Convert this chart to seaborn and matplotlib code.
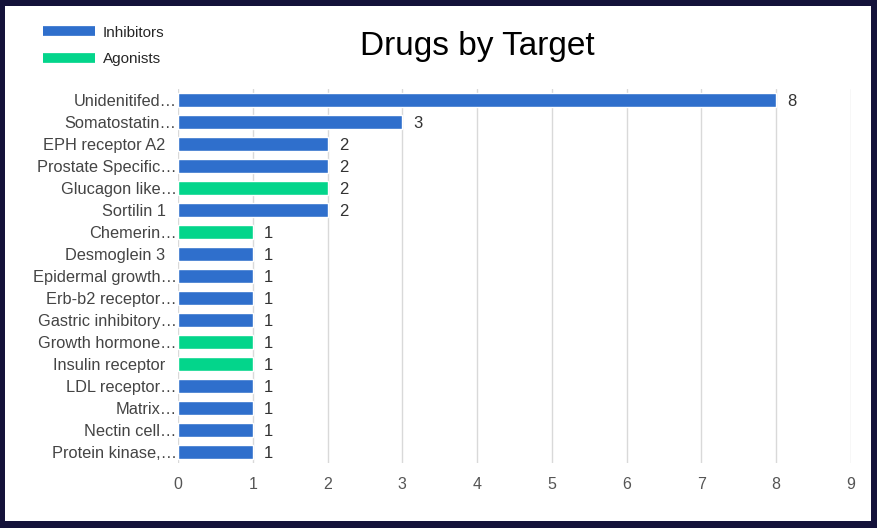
import pandas as pd
import matplotlib.pyplot as plt
import matplotlib.transforms as mtransforms
import seaborn as sns
from matplotlib.lines import Line2D
from matplotlib.patches import Rectangle

# --- DATA ---
targets = ["Unidenitifed\u2026", "Somatostatin\u2026", "EPH receptor A2", "Prostate Specific\u2026",
           "Glucagon like\u2026", "Sortilin 1", "Chemerin\u2026", "Desmoglein 3",
           "Epidermal growth\u2026", "Erb-b2 receptor\u2026", "Gastric inhibitory\u2026",
           "Growth hormone\u2026", "Insulin receptor", "LDL receptor\u2026", "Matrix\u2026",
           "Nectin cell\u2026", "Protein kinase,\u2026"]
counts = [8, 3, 2, 2, 2, 2, 1, 1, 1, 1, 1, 1, 1, 1, 1, 1, 1]
drug_type = ["Inhibitors", "Inhibitors", "Inhibitors", "Inhibitors", "Agonists", "Inhibitors",
             "Agonists", "Inhibitors", "Inhibitors", "Inhibitors", "Inhibitors", "Agonists",
             "Agonists", "Inhibitors", "Inhibitors", "Inhibitors", "Inhibitors"]
x_ticks = [0, 1, 2, 3, 4, 5, 6, 7, 8, 9]

# Colors
COLOR_INH = '#2f6fcc'
COLOR_AGO = '#03d58b'
BORDER = '#14123a'

df = pd.DataFrame({'Target': targets, 'Count': counts, 'Type': drug_type})

sns.set_style('white')
plt.rcParams['font.family'] = ['Liberation Sans', 'DejaVu Sans']

fig = plt.figure(figsize=(8.77, 5.28), dpi=100)
fig.patch.set_facecolor(BORDER)
# white card inside the dark frame
fig.patches.append(Rectangle((5 / 877, 7 / 528), 866 / 877, 515 / 528,
                             transform=fig.transFigure, facecolor='white',
                             edgecolor='none', zorder=-5))

ax = fig.add_axes([178 / 877, 65 / 528, 673 / 877, 374 / 528])
ax.set_facecolor('none')

sns.barplot(data=df, x='Count', y='Target', hue='Type', dodge=False, width=0.6,
            palette={'Inhibitors': COLOR_INH, 'Agonists': COLOR_AGO},
            order=targets, ax=ax, legend=False, saturation=1)

for c in ax.containers:
    labels = ax.bar_label(c, fmt='%d', padding=8, fontsize=12, color='#333333')
    for t in labels:
        t.set_va('center_baseline')

ax.set_xlim(0, 9)
ax.set_xticks(x_ticks)
ax.set_ylim(len(targets) - 0.5, -0.5)
ax.grid(axis='x', color='#d9d9d9', linewidth=1)
ax.set_axisbelow(True)
for s in ax.spines.values():
    s.set_visible(False)
ax.set_xlabel('')
ax.set_ylabel('')
ax.tick_params(axis='x', length=0, labelsize=11.5, labelcolor='#555555', pad=10)
ax.tick_params(axis='y', length=4, color='#dddddd', labelsize=11.8, labelcolor='#444444', pad=-3)

# untruncated labels sit a bit further from the axis (the ellipsis hangs over it)
shift = mtransforms.ScaledTranslation(-11 / 100, 0, fig.dpi_scale_trans)
for lbl in ax.get_yticklabels():
    if not lbl.get_text().endswith('\u2026'):
        lbl.set_transform(lbl.get_transform() + shift)

# Title
fig.text(477 / 877, 1 - 47 / 528, 'Drugs by Target', ha='center', va='center',
         fontsize=24, color='black')

# Legend
handles = [Line2D([0], [0], color=COLOR_INH, lw=7, solid_capstyle='butt'),
           Line2D([0], [0], color=COLOR_AGO, lw=7, solid_capstyle='butt')]
fig.legend(handles, ['Inhibitors', 'Agonists'], loc='upper left',
           bbox_to_anchor=(29 / 877, 1 - 12 / 528), frameon=False,
           handlelength=3.4, fontsize=11, labelspacing=0.8, handletextpad=0.55)

plt.savefig('out.png', dpi=100, facecolor=fig.get_facecolor())
